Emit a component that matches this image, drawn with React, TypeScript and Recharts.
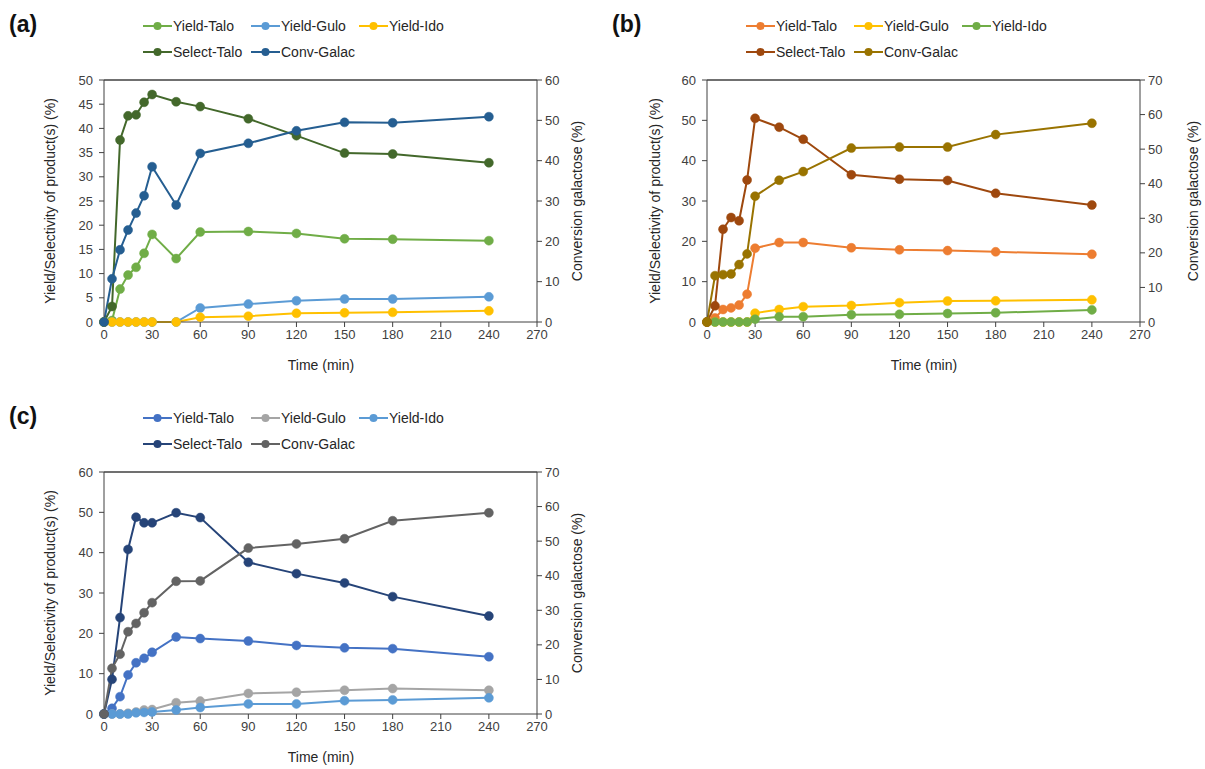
import React from "react";
import { LineChart, Line, XAxis, YAxis } from "recharts";

// sampling times (min)
const TIME = [0, 5, 10, 15, 20, 25, 30, 45, 60, 90, 120, 150, 180, 240];
const X_TICKS = [0, 30, 60, 90, 120, 150, 180, 210, 240, 270];

// panel (a)
const A_YIELD_TALO = [0, 0.3, 6.8, 9.7, 11.3, 14.2, 18.1, 13.1, 18.6, 18.7, 18.3, 17.2, 17.1, 16.8];
const A_YIELD_GULO = [0, 0, 0, 0, 0, 0, 0, 0, 2.9, 3.7, 4.4, 4.75, 4.75, 5.2];
const A_YIELD_IDO = [0, 0, 0, 0, 0, 0, 0, 0, 1.0, 1.2, 1.8, 1.9, 2.0, 2.3];
const A_SELECT_TALO = [0, 3.2, 37.6, 42.6, 42.8, 45.4, 47.0, 45.5, 44.5, 42.0, 38.5, 34.9, 34.7, 32.9];
const A_CONV_GALAC = [0, 10.7, 17.9, 22.8, 27.0, 31.3, 38.5, 29.0, 41.8, 44.3, 47.4, 49.5, 49.4, 50.9];

// panel (b)
const B_YIELD_TALO = [0, 1.0, 3.1, 3.5, 4.2, 6.9, 18.3, 19.7, 19.7, 18.4, 17.9, 17.7, 17.4, 16.8];
const B_YIELD_GULO = [0, 0, 0, 0, 0, 0, 2.2, 3.1, 3.8, 4.1, 4.8, 5.2, 5.25, 5.5];
const B_YIELD_IDO = [0, 0, 0, 0, 0, 0, 0.7, 1.3, 1.3, 1.8, 1.9, 2.1, 2.3, 3.0];
const B_SELECT_TALO = [0, 4.0, 23.0, 25.9, 25.1, 35.2, 50.5, 48.3, 45.3, 36.5, 35.4, 35.1, 31.9, 29.0];
const B_CONV_GALAC = [0, 13.4, 13.7, 13.9, 16.6, 19.7, 36.4, 41.0, 43.5, 50.3, 50.6, 50.6, 54.2, 57.5];

// panel (c)
const C_YIELD_TALO = [0, 1.4, 4.3, 9.7, 12.7, 13.8, 15.3, 19.1, 18.7, 18.1, 17.0, 16.4, 16.2, 14.2];
const C_YIELD_GULO = [0, 0, 0, 0.2, 0.5, 1.0, 1.1, 2.8, 3.2, 5.1, 5.4, 5.9, 6.3, 5.9];
const C_YIELD_IDO = [0, 0, 0, 0, 0.3, 0.4, 0.5, 1.0, 1.6, 2.5, 2.5, 3.3, 3.5, 4.0];
const C_SELECT_TALO = [0, 8.6, 23.9, 40.8, 48.8, 47.4, 47.4, 49.9, 48.7, 37.6, 34.8, 32.5, 29.1, 24.3];
const C_CONV_GALAC = [0, 13.2, 17.3, 23.8, 26.2, 29.3, 32.2, 38.4, 38.5, 48.0, 49.2, 50.7, 55.9, 58.2];

const NAMES = ["Yield-Talo", "Yield-Gulo", "Yield-Ido", "Select-Talo", "Conv-Galac"];

const FONT = "'Liberation Sans', Arial, sans-serif";
const INK = "#404040";
const TEXT = "#262626";

type Series = { name: string; values: number[]; color: string; right?: boolean };

function toRows(series: Series[]) {
  return TIME.map((t, i) => {
    const row: any = { t };
    series.forEach((s) => (row[s.name] = s.values[i]));
    return row;
  });
}

function range(max: number, step: number) {
  const out: number[] = [];
  for (let v = 0; v <= max; v += step) out.push(v);
  return out;
}

function Legend({ series }: { series: Series[] }) {
  const item = (s: Series) => (
    <div key={s.name} style={{ display: "flex", alignItems: "center", width: 108 }}>
      <svg width={31} height={12}>
        <line x1={1} y1={6} x2={30} y2={6} stroke={s.color} strokeWidth={2} />
        <circle cx={15.5} cy={6} r={4} fill={s.color} />
      </svg>
      <span>{s.name}</span>
    </div>
  );
  return (
    <div style={{ position: "absolute", left: 142, top: 13, fontFamily: FONT, fontSize: 14, color: TEXT, lineHeight: "26px" }}>
      <div style={{ display: "flex" }}>{series.slice(0, 3).map(item)}</div>
      <div style={{ display: "flex" }}>{series.slice(3).map(item)}</div>
    </div>
  );
}

// axis title placed by its centre
function Title({ text, x, y, rotate }: { text: string; x: number; y: number; rotate?: boolean }) {
  return (
    <div
      style={{
        position: "absolute", left: x, top: y, whiteSpace: "nowrap", fontFamily: FONT, fontSize: 14, color: TEXT,
        transform: `translate(-50%, -50%)${rotate ? " rotate(-90deg)" : ""}`,
      }}
    >
      {text}
    </div>
  );
}

function Panel({
  tag, series, left, top, leftMax, leftStep, rightMax, rightTitleX, leftTitleX,
}: {
  tag: string; series: Series[]; left: number; top: number; leftMax: number; leftStep: number;
  rightMax: number; rightTitleX: number; leftTitleX: number;
}) {
  const rows = toRows(series);
  const tick = { fontSize: 13, fill: INK, fontFamily: FONT };
  return (
    <div style={{ position: "absolute", left, top, width: 600, height: 377 }}>
      <div style={{ position: "absolute", left: 9, top: 11, fontFamily: FONT, fontWeight: "bold", fontSize: 23, color: "#111" }}>
        {tag}
      </div>
      <Legend series={series} />
      <LineChart width={600} height={370} data={rows} margin={{ top: 80, right: 0, bottom: 0, left: 0 }}>
        <XAxis
          dataKey="t"
          type="number"
          domain={[0, 270]}
          ticks={X_TICKS}
          height={48}
          stroke={INK}
          tick={tick}
          tickSize={5}
          tickMargin={3}
        />
        <YAxis yAxisId="left" domain={[0, leftMax]} ticks={range(leftMax, leftStep)} width={104} stroke={INK} tick={tick} tickSize={5} tickMargin={6} />
        <YAxis yAxisId="right" orientation="right" domain={[0, rightMax]} ticks={range(rightMax, 10)} width={63} stroke={INK} tick={tick} tickSize={5} tickMargin={3} />
        {series.map((s) => (
          <Line
            key={s.name}
            yAxisId={s.right ? "right" : "left"}
            dataKey={s.name}
            stroke={s.color}
            strokeWidth={2}
            dot={{ r: 4.5, fill: s.color, stroke: s.color, strokeWidth: 0.5 }}
            isAnimationActive={false}
          />
        ))}
      </LineChart>
      {/* top edge of the plot frame */}
      <svg style={{ position: "absolute", left: 0, top: 0, zIndex: 2, pointerEvents: "none" }} width={600} height={100}>
        <line x1={104} y1={80} x2={537} y2={80} stroke={INK} strokeWidth={1.3} />
      </svg>
      <Title text="Yield/Selectivity of product(s) (%)" x={leftTitleX} y={201} rotate />
      <Title text="Conversion galactose (%)" x={rightTitleX} y={201} rotate />
      <Title text="Time (min)" x={321} y={365} />
    </div>
  );
}

function mk(values: number[][], colors: string[]): Series[] {
  return NAMES.map((name, i) => ({ name, values: values[i], color: colors[i], right: i === 4 }));
}

export default function App() {
  const a = mk([A_YIELD_TALO, A_YIELD_GULO, A_YIELD_IDO, A_SELECT_TALO, A_CONV_GALAC], ["#70AD47", "#5B9BD5", "#FFC000", "#43682B", "#255E91"]);
  const b = mk([B_YIELD_TALO, B_YIELD_GULO, B_YIELD_IDO, B_SELECT_TALO, B_CONV_GALAC], ["#ED7D31", "#FFC000", "#70AD47", "#9E480E", "#997300"]);
  const c = mk([C_YIELD_TALO, C_YIELD_GULO, C_YIELD_IDO, C_SELECT_TALO, C_CONV_GALAC], ["#4472C4", "#A5A5A5", "#5B9BD5", "#264478", "#636363"]);
  return (
    <div style={{ position: "absolute", left: 0, top: 0, width: 1205, height: 769, background: "#fff", overflow: "hidden" }}>
      <Panel tag="(a)" series={a} left={0} top={0} leftMax={50} leftStep={5} rightMax={60} leftTitleX={50} rightTitleX={577} />
      <Panel tag="(b)" series={b} left={603} top={0} leftMax={60} leftStep={10} rightMax={70} leftTitleX={52} rightTitleX={590} />
      <Panel tag="(c)" series={c} left={0} top={392} leftMax={60} leftStep={10} rightMax={70} leftTitleX={50} rightTitleX={577} />
    </div>
  );
}
